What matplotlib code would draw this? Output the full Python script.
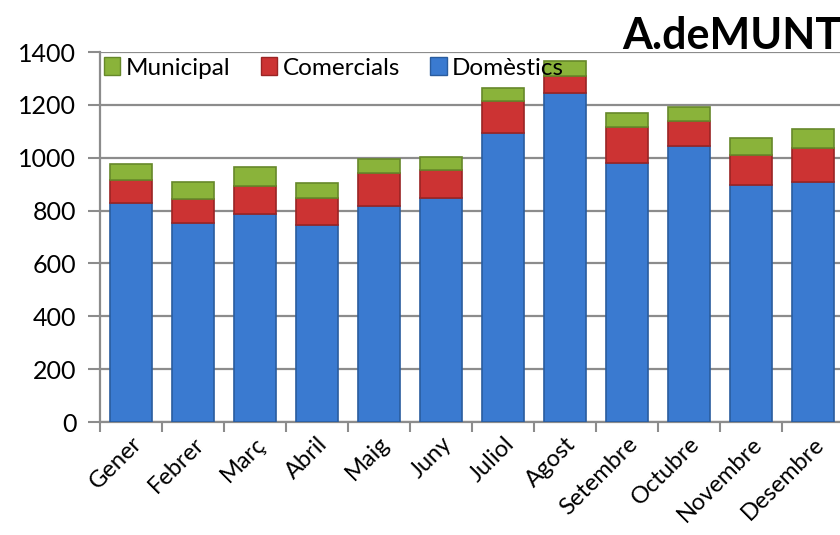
import matplotlib
matplotlib.use("Agg")
import matplotlib.pyplot as plt
import numpy as np
from matplotlib.patches import Patch

plt.rcParams['font.family'] = ['Lato', 'DejaVu Sans']

months = ["Gener", "Febrer", "Març", "Abril", "Maig", "Juny", "Juliol",
          "Agost", "Setembre", "Octubre", "Novembre", "Desembre"]
domestics = [830, 754, 788, 745, 818, 849, 1095, 1244, 981, 1044, 897, 909]
comercials = [87, 90, 106, 104, 124, 105, 120, 66, 134, 96, 113, 129]
municipal = [58, 63, 70, 54, 53, 48, 48, 55, 53, 51, 63, 70]
yticks = [0, 200, 400, 600, 800, 1000, 1200, 1400]

blue, red, green = "#3A7AD0", "#CC3333", "#8AB33A"
blue_e, red_e, green_e = "#2A5C9E", "#9A2424", "#66882A"

fig = plt.figure(figsize=(8.4, 5.35), dpi=100)
ax = fig.add_axes([100/840, 1-422/535, 744/840, 370/535])

x = np.arange(len(months))
w = 0.68
dom = np.array(domestics); com = np.array(comercials); mun = np.array(municipal)
ax.bar(x, dom, w, color=blue, edgecolor=blue_e, linewidth=1.2, zorder=3)
ax.bar(x, com, w, bottom=dom, color=red, edgecolor=red_e, linewidth=1.2, zorder=3)
ax.bar(x, mun, w, bottom=dom+com, color=green, edgecolor=green_e, linewidth=1.2, zorder=3)

ax.set_xlim(-0.5, len(months)-0.5)
ax.set_ylim(0, 1400)
ax.set_yticks(yticks)
ax.set_yticklabels([str(v) for v in yticks], fontsize=18)
ax.yaxis.grid(True, color="#8C8C8C", linewidth=1.6, zorder=0)
ax.set_axisbelow(True)

ax.set_xticks(x)
ax.set_xticklabels(months, rotation=45, ha='right', rotation_mode='anchor', fontsize=17)
ax.set_xticks(np.arange(-0.5, len(months), 1.0), minor=True)
ax.tick_params(axis='x', which='major', length=0, pad=8)
ax.tick_params(axis='x', which='minor', length=7, width=1.5, color="#8C8C8C", direction='out')
ax.tick_params(axis='y', length=9, width=1.5, color="#8C8C8C", pad=8)

for s in ['top', 'right']:
    ax.spines[s].set_visible(False)
for s in ['left', 'bottom']:
    ax.spines[s].set_color("#8C8C8C")
    ax.spines[s].set_linewidth(1.6)

handles = [Patch(facecolor=green, edgecolor=green_e), Patch(facecolor=red, edgecolor=red_e),
           Patch(facecolor=blue, edgecolor=blue_e)]
ax.legend(handles, ["Municipal", "Comercials", "Domèstics"], ncol=3, loc='upper left',
          bbox_to_anchor=(0.0, 0.995), frameon=False, fontsize=17.5,
          handlelength=0.68, handleheight=0.7, handletextpad=0.22, columnspacing=1.25,
          borderaxespad=0.0, borderpad=0.15)

fig.text(622/840, 1-49/535, "A.deMUNT", fontsize=31, fontweight='bold', ha='left', va='baseline')

fig.savefig("out.png", dpi=100)
